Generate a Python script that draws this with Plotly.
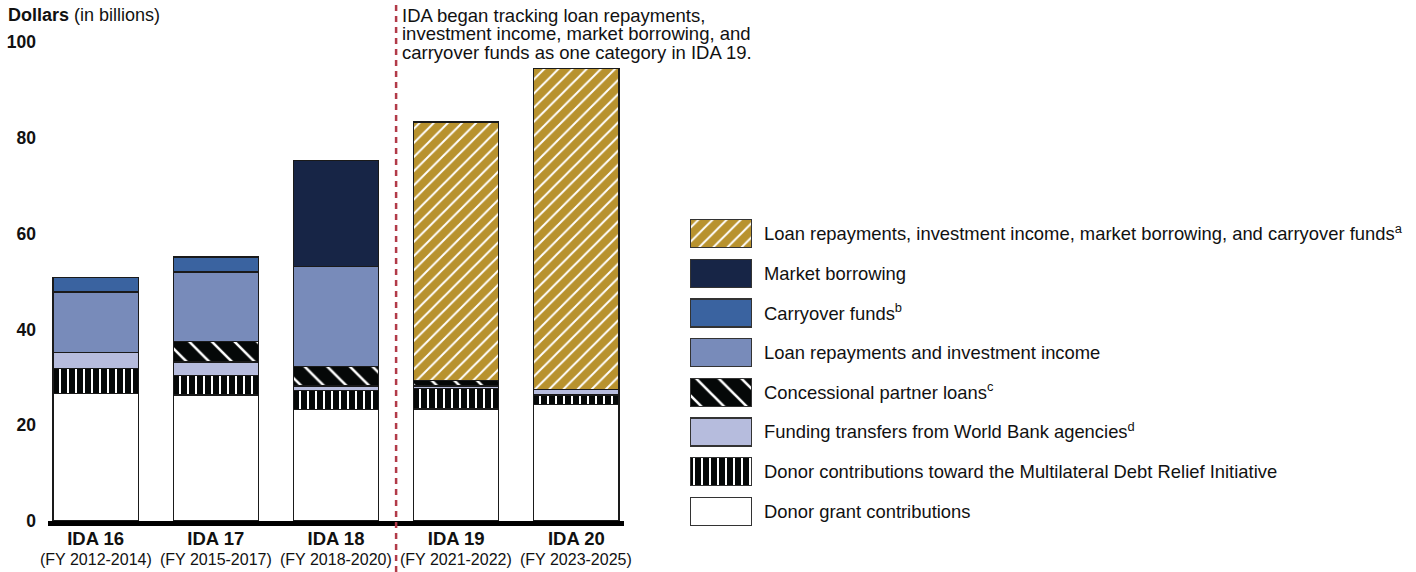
import plotly.graph_objects as go

# ---- data ----
categories = ["IDA 16", "IDA 17", "IDA 18", "IDA 19", "IDA 20"]
periods = ["(FY 2012-2014)", "(FY 2015-2017)", "(FY 2018-2020)", "(FY 2021-2022)", "(FY 2023-2025)"]

donor_grant = [26.7, 26.3, 23.2, 23.4, 24.4]
mdri = [5.2, 4.0, 4.1, 4.2, 1.9]
funding_transfers = [3.2, 2.9, 0.9, 0.6, 1.1]
concessional = [None, 4.2, 4.0, 1.2, None]
loan_repay = [12.7, 14.6, 21.0, None, None]
carryover = [3.1, 3.1, None, None, None]
market = [None, None, 22.0, None, None]
combined = [None, None, None, 53.9, 67.0]

y_ticks = [0, 20, 40, 60, 80, 100]

series_names = [
    "Donor grant contributions",
    "Donor contributions toward the Multilateral Debt Relief Initiative",
    "Funding transfers from World Bank agencies<sup>d</sup>",
    "Concessional partner loans<sup>c</sup>",
    "Loan repayments and investment income",
    "Carryover funds<sup>b</sup>",
    "Market borrowing",
    "Loan repayments, investment income, market borrowing, and carryover funds<sup>a</sup>",
]
series_values = [donor_grant, mdri, funding_transfers, concessional, loan_repay, carryover, market, combined]
legend_unit = [1] * len(series_names)

note_lines = [
    "IDA began tracking loan repayments,",
    "investment income, market borrowing, and",
    "carryover funds as one category in IDA 19.",
]

# ---- styles ----
GOLD = "#B8922E"
BLK = "#050808"
styles = [
    dict(color="#FFFFFF", pattern=None),
    dict(color=BLK, pattern=dict(shape="|", bgcolor=BLK, fgcolor="#FFFFFF", size=8, solidity=0.25)),
    dict(color="#B6BCDD", pattern=None),
    dict(color=BLK, pattern=dict(shape="\\", bgcolor=BLK, fgcolor="#FFFFFF", size=16, solidity=0.16)),
    dict(color="#788BBA", pattern=None),
    dict(color="#3A63A0", pattern=None),
    dict(color="#172546", pattern=None),
    dict(color=GOLD, pattern=dict(shape="/", bgcolor=GOLD, fgcolor="#FFFFFF", size=10, solidity=0.2)),
]

FONT = "Arial, Liberation Sans, sans-serif"
TXT = "#111111"
W, H = 1416, 572

def fy(px):  # pixel from top -> paper fraction
    return (H - px) / H

def fx(px):
    return px / W

fig = go.Figure()

for name, vals, st in zip(series_names, series_values, styles):
    marker = dict(color=st["color"], line=dict(color="#1a1a1a", width=1.2))
    if st["pattern"]:
        marker["pattern"] = st["pattern"]
    fig.add_trace(go.Bar(x=categories, y=vals, name=name, marker=marker,
                         xaxis="x", yaxis="y", showlegend=False))

# legend drawn as a small subplot of large swatches
for name, st, u in zip(series_names, styles, legend_unit):
    marker = dict(color=st["color"], line=dict(color="#333333", width=1.2))
    if st["pattern"]:
        marker["pattern"] = st["pattern"]
    fig.add_trace(go.Bar(y=[name], x=[u], orientation="h", marker=marker,
                         xaxis="x2", yaxis="y2", showlegend=False, hoverinfo="skip"))

fig.update_layout(
    width=W, height=H,
    template="none",
    margin=dict(l=0, r=0, t=0, b=0, pad=0),
    paper_bgcolor="white", plot_bgcolor="white",
    barmode="stack", bargap=0.292,
    font=dict(family=FONT, color=TXT),
    xaxis=dict(domain=[fx(48), fx(624)], range=[-0.396, 4.396], automargin=False,
               tickvals=categories, ticktext=[f"<b>{c}</b>" for c in categories],
               tickfont=dict(size=18.5, family=FONT, color=TXT),
               showline=True, linecolor="#000000", linewidth=4.5,
               ticks="", showgrid=False, zeroline=False, fixedrange=True,
               ticklabelstandoff=-3),
    yaxis=dict(domain=[fy(521), fy(42)], range=[0, 100], automargin=False,
               tickvals=y_ticks, ticktext=[f"<b>{v}</b>" for v in y_ticks],
               tickfont=dict(size=17.5, family=FONT, color=TXT),
               showgrid=False, zeroline=False, showline=False, ticks="",
               ticklabelstandoff=11),
    xaxis2=dict(domain=[fx(690), fx(752)], range=[0, 1], visible=False, anchor="y2",
                automargin=False),
    yaxis2=dict(domain=[fy(531), fy(214)], anchor="x2", side="right", automargin=False,
                categoryorder="array", categoryarray=series_names,
                tickfont=dict(size=18.4, family=FONT, color=TXT),
                showgrid=False, zeroline=False, showline=False, ticks="",
                ticklabelstandoff=11),
    bargroupgap=0,
)

# fiscal-year sub-labels under each category
for c, p in zip(categories, periods):
    fig.add_annotation(xref="x", yref="paper", x=c, y=fy(559), yanchor="middle", xanchor="center",
                       text=p, showarrow=False, font=dict(size=16, family=FONT, color=TXT))

# dashed divider between IDA 18 and IDA 19
fig.add_shape(type="line", xref="x", yref="paper", x0=2.5, x1=2.5,
              y0=0, y1=1, line=dict(color="#B23A48", width=2.5, dash="6px,5px"))

fig.add_annotation(xref="paper", yref="paper", x=fx(6), y=fy(15), xanchor="left", yanchor="middle",
                   text="<b>Dollars</b> (in billions)", showarrow=False,
                   font=dict(size=18, family=FONT, color=TXT))

for i, line in enumerate(note_lines):
    fig.add_annotation(xref="paper", yref="paper", x=fx(400), y=fy(15 + 18.5 * i),
                       xanchor="left", yanchor="middle", align="left", showarrow=False,
                       text=line, font=dict(size=18.5, family=FONT, color=TXT))

# remove the page's default body margin so the 1416x572 figure fills the window
fig.write_html("out.html", config={"displayModeBar": False},
               post_script="document.body.style.margin='0';document.body.style.overflow='hidden';")
